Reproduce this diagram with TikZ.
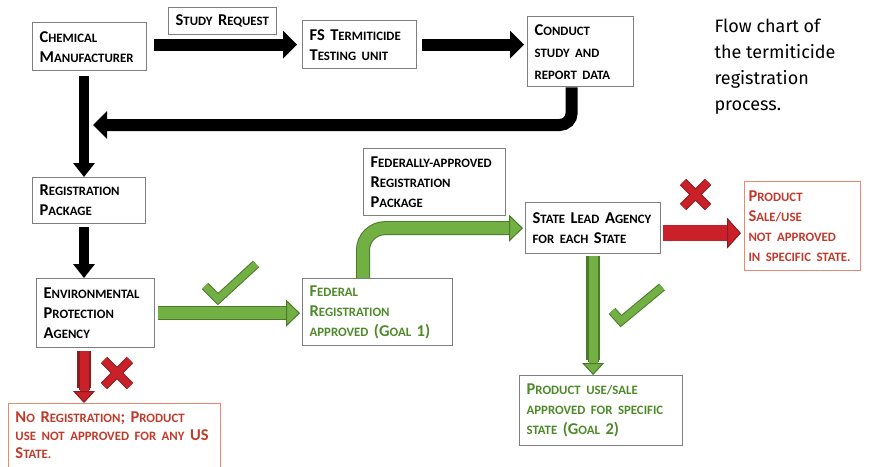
\documentclass[tikz,border=0pt]{standalone}
\usepackage{fontspec}
\setmainfont{Carlito}
\newfontfamily\titlefont{Fira Sans}
\usetikzlibrary{arrows.meta}
\definecolor{boxgray}{HTML}{7F7F7F}
\definecolor{fgreen}{HTML}{72B044}
\definecolor{dgreen}{HTML}{4C7A2C}
\definecolor{fred}{HTML}{C9202A}
\definecolor{dred}{HTML}{8A1B1F}
\definecolor{tgreen}{HTML}{4E8A2A}
\definecolor{tred}{HTML}{C23A2B}
\definecolor{lred}{HTML}{E98A70}
\newcommand\sm[1]{{\fontsize{12.8}{20}\selectfont\MakeUppercase{#1}}}
\tikzset{
  box/.style={draw=boxgray, line width=1.3pt, anchor=north west, align=left, inner xsep=7pt, inner ysep=2pt, font=\fontsize{16.5}{20}\selectfont\bfseries},
  okbox/.style={box, text=tgreen},
  nobox/.style={box, draw=lred, line width=1pt, text=tred},
  bflow/.style={line width=12pt, draw=black, -{Triangle[length=14pt,width=27pt]}},
  vflow/.style={bflow, line width=10pt, -{Triangle[length=14pt,width=21pt]}},
  gflow/.style={line width=12pt, draw=fgreen, -{Triangle[length=14pt,width=27pt,fill=fgreen,color=dgreen,line width=1pt]},
    preaction={draw=dgreen, line width=14pt, -, shorten >=15pt}},
  rflow/.style={gflow, draw=fred, -{Triangle[length=14pt,width=27pt,fill=fred,color=dred,line width=1pt]},
    preaction={draw=dred, line width=14pt, -, shorten >=15pt}},
  tick/.style={draw=fgreen, line width=7pt, preaction={draw=dgreen, line width=9pt}},
  cross/.style={draw=fred, line width=7pt, preaction={draw=dred, line width=9pt}},
}
\begin{document}
\begin{tikzpicture}[x=1pt, y=-1pt]
  \useasboundingbox (0,0) rectangle (877,466);
  % boxes
  \node[box, text width=100pt, minimum height=48pt] (chem) at (32,22) {C\sm{hemical}\\M\sm{anufacturer}};
  \node[box, text width=94pt, minimum height=27pt] (req) at (168,7) {S\sm{tudy} R\sm{equest}};
  \node[box, text width=100pt, minimum height=48pt] (fs) at (302,20) {FS T\sm{ermiticide}\\T\sm{esting unit}};
  \node[box, text width=92pt, minimum height=70pt, font=\fontsize{16.5}{22}\selectfont\bfseries] (conduct) at (527,16) {C\sm{onduct}\\\sm{study and}\\\sm{report data}};
  \node[box, text width=99pt, minimum height=46pt] (reg) at (32,177) {R\sm{egistration}\\P\sm{ackage}};
  \node[box, text width=104pt, minimum height=69pt] (epa) at (36,278) {E\sm{nvironmental}\\P\sm{rotection}\\A\sm{gency}};
  \node[okbox, text width=136pt, minimum height=67pt] (fed) at (302,278) {F\sm{ederal}\\R\sm{egistration}\\\sm{approved} (G\sm{oal} 1)};
  \node[box, text width=128pt, minimum height=67pt] (fedpkg) at (363,148) {F\sm{ederally-approved}\\R\sm{egistration}\\P\sm{ackage}};
  \node[box, text width=121pt, minimum height=51pt] (state) at (525,202) {S\sm{tate} L\sm{ead} A\sm{gency}\\\sm{for each} S\sm{tate}};
  \node[nobox, inner xsep=4pt, text width=108pt, minimum height=89pt] (prod) at (744,181) {P\sm{roduct}\\S\sm{ale/use}\\\sm{not approved}\\\sm{in specific state.}};
  \node[okbox, text width=149pt, minimum height=70pt] (goal) at (519,375) {P\sm{roduct use/sale}\\\sm{approved for specific}\\\sm{state} (G\sm{oal} 2)};
  \node[nobox, text width=198pt, minimum height=64pt, font=\fontsize{16.5}{18}\selectfont\bfseries] (noreg) at (8,403) {N\sm{o} R\sm{egistration}; P\sm{roduct}\\\sm{use not approved for any} US\\S\sm{tate.}};
  \node[anchor=north west, align=left, font=\titlefont\fontsize{18}{26}\selectfont] (title) at (711,15)
    {Flow chart of\\the termiticide\\registration\\process.};
  % connectors
  \coordinate (col) at (84,0);
  \coordinate (back) at (93,125);
  \draw[bflow, shorten <=7pt, shorten >=5pt] (chem.east |- fs.west) -- (fs.west);
  \draw[bflow, shorten <=5pt, shorten >=3pt] (fs.east) -- (fs.east -| conduct.west);
  \draw[bflow, rounded corners=12pt] ([xshift=-9pt]conduct.south) |- (back);
  \draw[vflow, shorten <=5pt] (chem.south -| col) -- (reg.north -| col);
  \draw[vflow, shorten <=3pt] (reg.south -| col) -- (epa.north -| col);
  \draw[gflow, shorten <=3pt, shorten >=2pt] (epa.east) -- (epa.east -| fed.west);
  \draw[gflow, rounded corners=22pt, shorten >=2pt] ([xshift=61pt]fed.north west) |- (state.west);
  \draw[rflow, line width=16pt, -{Triangle[length=14pt,width=31pt,fill=fred,color=dred,line width=1pt]}, shorten <=2pt, shorten >=3pt]
    ([yshift=-5pt]state.east) -- ([yshift=-5pt]state.east -| prod.west);
  \draw[gflow, line width=9pt, -{Triangle[length=12pt,width=22pt,fill=fgreen,color=dgreen,line width=1pt]},
    preaction={draw=dgreen, line width=11pt, -, shorten >=13pt}, shorten <=2pt] (state.south) -- (goal.north -| state.south);
  \draw[rflow, line width=9pt, -{Triangle[length=12pt,width=22pt,fill=fred,color=dred,line width=1pt]},
    preaction={draw=dred, line width=11pt, -, shorten >=13pt}, shorten <=3pt] (epa.south -| col) -- (noreg.north -| col);
  % ticks and crosses
  \draw[tick] (205,286) -- (218,299) -- (256,264);
  \draw[tick] (612,311) -- (621,321) -- (662,287);
  \draw[cross] (104,360) -- (130,386) (130,360) -- (104,386);
  \draw[cross] (683,182) -- (708,207) (708,182) -- (683,207);
\end{tikzpicture}
\end{document}
